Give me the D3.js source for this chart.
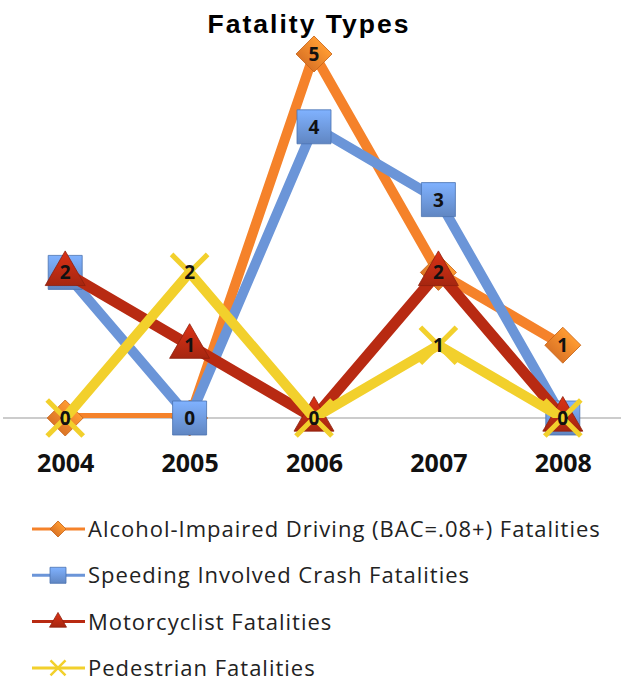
<!DOCTYPE html>
<html>
<head>
<meta charset="utf-8">
<script src="https://cdn.jsdelivr.net/npm/d3@7"></script>
<style>
  body { margin: 0; background: #fff; }
</style>
</head>
<body>
<div id="chart"></div>
<script>
// Data
const years = ['2004', '2005', '2006', '2007', '2008']
const alcohol = [0, 0, 5, 2, 1]
const speeding = [2, 0, 4, 3, 0]
const motorcyclist = [2, 1, 0, 2, 0]
const pedestrian = [0, 2, 0, 1, 0]
const seriesNames = [
    'Alcohol-Impaired Driving (BAC=.08+) Fatalities',
    'Speeding Involved Crash Fatalities',
    'Motorcyclist Fatalities',
    'Pedestrian Fatalities'
]

let series = [
    {name: seriesNames[0], values: alcohol, color: '#f5822a', marker: 'diamond'},
    {name: seriesNames[1], values: speeding, color: '#6b95d8', marker: 'square'},
    {name: seriesNames[2], values: motorcyclist, color: '#b82a12', marker: 'triangle'},
    {name: seriesNames[3], values: pedestrian, color: '#f2d02c', marker: 'x'}
]

//Dimensions
const width = 621, height = 681
const axisY = 418

const svg = d3.select('#chart')
    .append('svg')
    .attr('width', width)
    .attr('height', height)

// Scales
let x = d3.scalePoint().domain(years).range([3, 625]).padding(0.5)
let y = d3.scaleLinear().domain([0, 5]).range([axisY, 54])

let defs = svg.append('defs')
defs.append('clipPath')
    .attr('id', 'plot-clip')
    .append('rect')
    .attr('x', 0).attr('y', 20)
    .attr('width', width).attr('height', axisY - 20)

// marker gradients
series.forEach((s, i) => {
    let g = defs.append('linearGradient')
        .attr('id', 'grad' + i)
        .attr('x1', 0).attr('y1', 0).attr('x2', 0).attr('y2', 1)
    g.append('stop').attr('offset', '0%').attr('stop-color', d3.color(s.color).brighter(0.5))
    g.append('stop').attr('offset', '100%').attr('stop-color', d3.color(s.color).darker(0.3))
})

// Title
svg.append('text')
    .attr('x', 309)
    .attr('y', 33)
    .attr('text-anchor', 'middle')
    .style('font-family', 'Liberation Sans, Arial, sans-serif')
    .style('font-weight', 'bold')
    .style('font-size', '26.5px')
    .style('letter-spacing', '2px')
    .text('Fatality Types')

// X axis
let xAxis = svg.append('g')
    .attr('transform', 'translate(0,' + axisY + ')')
    .call(d3.axisBottom(x).tickSize(0).tickPadding(36))
xAxis.select('.domain').attr('stroke', '#9a9a9a').attr('stroke-width', 1.2)
    .attr('d', 'M3,0H621')
xAxis.selectAll('.tick text')
    .style('font-family', 'Open Sans, sans-serif')
    .style('font-weight', 'bold')
    .style('font-size', '25px')
    .attr('fill', '#111')

function drawMarker(g, type, cx, cy, s, fill) {
    if (type === 'diamond') {
        g.append('path')
            .attr('d', d3.symbol(d3.symbolSquare, s * s / 2)())
            .attr('transform', 'translate(' + cx + ',' + cy + ') rotate(45)')
            .attr('fill', fill).attr('stroke', '#c8661a').attr('stroke-width', 0.8)
    } else if (type === 'square') {
        g.append('path')
            .attr('d', d3.symbol(d3.symbolSquare, s * s)())
            .attr('transform', 'translate(' + cx + ',' + cy + ')')
            .attr('fill', fill).attr('stroke', '#4a72b0').attr('stroke-width', 0.8)
    } else if (type === 'triangle') {
        g.append('path')
            .attr('d', d3.symbol(d3.symbolTriangle, Math.sqrt(3) / 4 * s * s)())
            .attr('transform', 'translate(' + cx + ',' + (cy + s * 0.04) + ')')
            .attr('fill', fill).attr('stroke', '#8e1f0c').attr('stroke-width', 0.8)
    } else {
        let r = s / 2
        g.append('path')
            .attr('d', 'M' + (cx - r) + ',' + (cy - r) + 'L' + (cx + r) + ',' + (cy + r) +
                'M' + (cx + r) + ',' + (cy - r) + 'L' + (cx - r) + ',' + (cy + r))
            .attr('stroke', fill).attr('stroke-width', Math.max(2.5, s / 7)).attr('fill', 'none')
    }
}

const markerSize = {diamond: 36, square: 34, triangle: 40, x: 36}

let line = d3.line()
    .x((d, i) => x(years[i]))
    .y(d => y(d))

// Series, drawn one after the other like the spreadsheet does
series.forEach((s, i) => {
    let g = svg.append('g').attr('class', 'series')
    g.append('path')
        .attr('clip-path', 'url(#plot-clip)')
        .attr('d', line(s.values))
        .attr('fill', 'none')
        .attr('stroke', s.color)
        .attr('stroke-width', s.marker === 'triangle' ? 11 : 10)
        .attr('stroke-linejoin', 'round')
    s.values.forEach((v, j) => {
        drawMarker(g, s.marker, x(years[j]), y(v), markerSize[s.marker],
            s.marker === 'x' ? s.color : 'url(#grad' + i + ')')
        g.append('text')
            .attr('x', x(years[j]))
            .attr('y', y(v) + 7)
            .attr('text-anchor', 'middle')
            .style('font-family', 'Open Sans, sans-serif')
            .style('font-weight', 'bold')
            .style('font-size', '19px')
            .attr('fill', '#111')
            .text(v)
    })
})

// Legend
let legend = svg.append('g')
    .selectAll('g')
    .data(series)
    .enter()
    .append('g')
    .attr('transform', (d, i) => 'translate(0,' + (529 + i * 46.3) + ')')

legend.append('line')
    .attr('x1', 32).attr('x2', 85)
    .attr('stroke', d => d.color)
    .attr('stroke-width', 3)
legend.each(function(d, i) {
    drawMarker(d3.select(this), d.marker, 58, 0, d.marker === 'x' ? 15 : (d.marker === 'triangle' ? 17 : 16),
        d.marker === 'x' ? d.color : 'url(#grad' + i + ')')
})
legend.append('text')
    .attr('x', 88)
    .attr('y', 8)
    .style('font-family', 'Open Sans, sans-serif')
    .style('font-size', '22px')
    .style('letter-spacing', '1px')
    .attr('fill', '#222')
    .text(d => d.name)
</script>
</body>
</html>
